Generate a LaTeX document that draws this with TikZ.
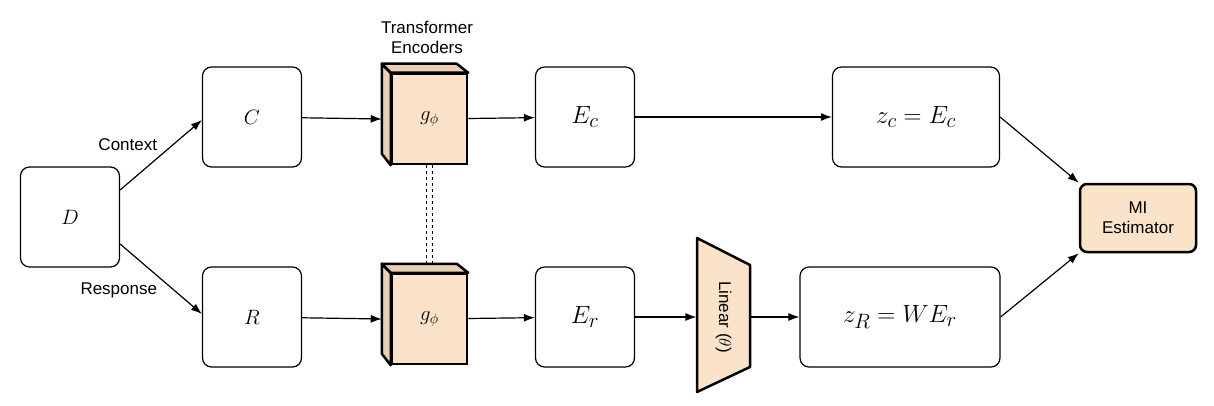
\documentclass[tikz,border=0pt]{standalone}
\usepackage{fontspec}
\setsansfont{Liberation Sans}
\usetikzlibrary{positioning,arrows.meta}
\begin{document}
\begin{tikzpicture}[
    x=1pt, y=-1pt, line width=1.2pt,
    % define styles
    box/.style={
        draw, rounded corners=9pt, minimum width=99pt, minimum height=100pt
    },
    cube/.style={
        draw, line width=2.5pt, fill=peach, minimum width=75pt, minimum height=90pt,
        font=\fontsize{22}{24}\selectfont
    },
    big/.style={font=\fontsize{30}{34}\selectfont},
    mid/.style={font=\fontsize{22}{24}\selectfont},
    lbl/.style={font=\sffamily\fontsize{17}{20}\selectfont, align=center},
    >={Latex[length=11pt,width=8pt]}
]
\definecolor{peach}{HTML}{FAE3C9}
\definecolor{peachd}{HTML}{E8CFB3}
\useasboundingbox (0,0) rectangle (1214,406);

% left input and split
\node[box, mid] (D) at (70,217) {$D$};
\node[box, mid] (C) at (252,117) {$C$};
\node[box, mid] (R) at (252,317) {$R$};

% encoders
\node[cube] (encC) at (429.5,119) {$g_\phi$};
\node[cube] (encR) at (429.5,319) {$g_\phi$};
\foreach \e in {encC,encR} {
    \draw[line width=2.5pt, fill=peachd, line join=round]
        (\e.north west) -- ++(-9,-9) -- ++(0,90) -- (\e.south west) -- cycle;
    \draw[line width=2.5pt, fill=peachd, line join=round]
        (\e.north west) -- ++(-9,-9) -- ++(75,0) -- (\e.north east) -- cycle;
}
\node[lbl] (title) at (427,37) {Transformer\\Encoders};
\draw[dashed] ([xshift=-3pt]encC.south) -- ([xshift=-3pt,yshift=9pt]encR.north);
\draw[dashed] ([xshift=3pt]encC.south) -- ([xshift=3pt,yshift=9pt]encR.north);

% embeddings
\node[box, big] (Ec) at (585,117) {$E_c$};
\node[box, big] (Er) at (585,317) {$E_r$};
\node[box, big, minimum width=167pt] (zc) at (916,117) {$z_c = E_c$};
\node[box, big, minimum width=200pt] (zR) at (900,317) {$z_R = W E_r$};

% linear projection
\node[minimum width=53pt, minimum height=100pt, inner sep=0pt] (lin) at (723.5,317) {};
\draw[line width=2.5pt, fill=peach, line join=round]
    (697,238) -- (750,265) -- (750,367) -- (697,392) -- cycle;
\node[lbl, rotate=-90] at (lin.center) {Linear ($\theta$)};

% estimator
\node[draw, line width=2.5pt, fill=peach, rounded corners=7pt, minimum width=116pt,
      minimum height=68pt, lbl] (mi) at (1138,218) {MI\\Estimator};

% connectors
\draw[->] ([yshift=27pt]D.east) -- node[lbl, above left] {Context} ([yshift=-3pt]C.west);
\draw[->] ([yshift=-27pt]D.east) -- node[lbl, below left] {Response} ([yshift=3pt]R.west);
\draw[->] (C) -- ([xshift=-9pt]encC.west);
\draw[->] (R) -- ([xshift=-9pt]encR.west);
\draw[->] (encC) -- (Ec);
\draw[->] (encR) -- (Er);
\draw[->] (Ec) -- (zc);
\draw[->] (Er) -- (lin);
\draw[->] (lin) -- (zR);
\draw[->] (zc.east) -- (mi.north west);
\draw[->] (zR.east) -- (mi.south west);
\end{tikzpicture}
\end{document}
